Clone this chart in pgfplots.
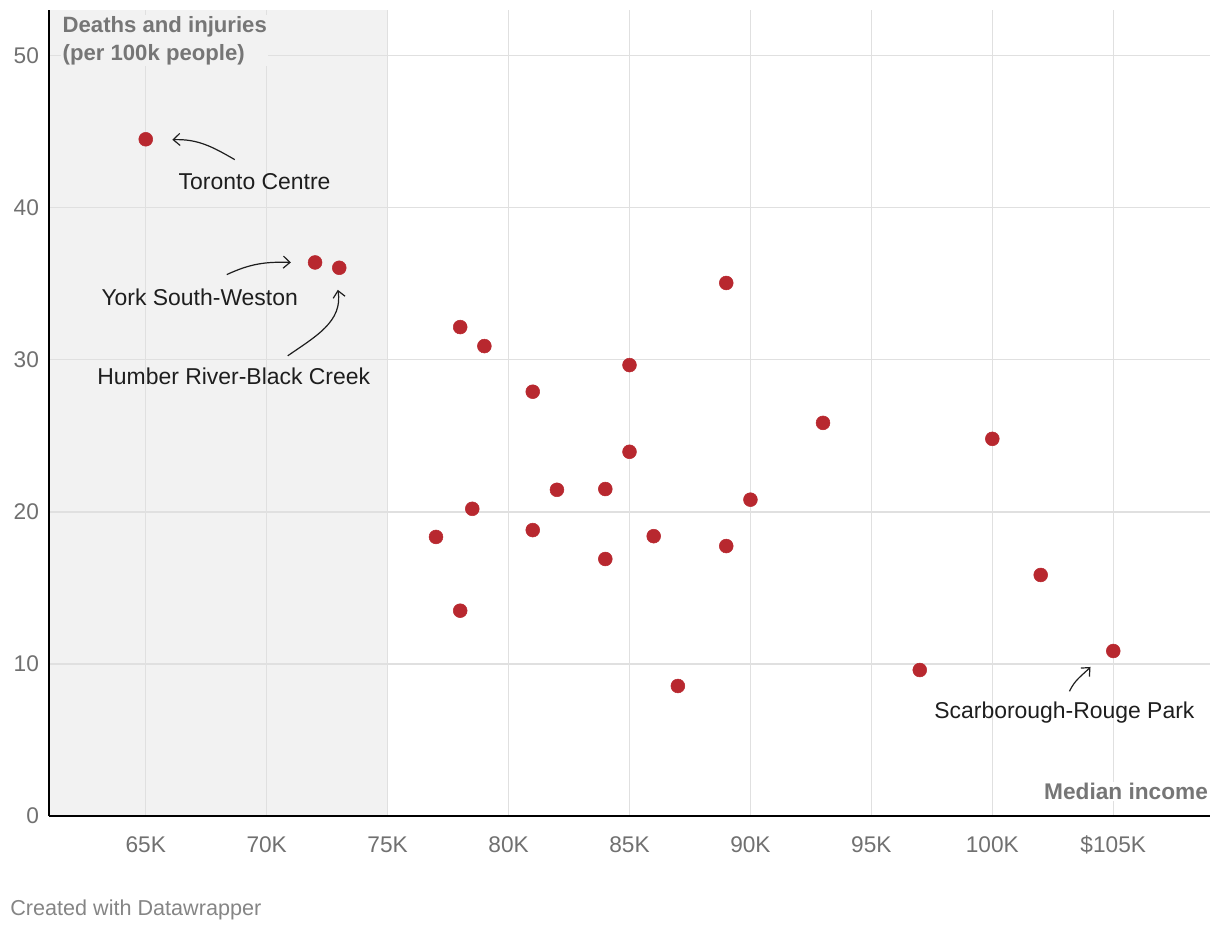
\documentclass[border=0pt]{standalone}
\usepackage{fontspec}
\setmainfont{Liberation Sans}
\usepackage{pgfplots}
\pgfplotsset{compat=1.18}
\usetikzlibrary{arrows.meta}
\definecolor{dotred}{HTML}{B8282F}
\definecolor{gridgray}{HTML}{E0E0E0}
\definecolor{shade}{HTML}{F2F2F2}
\definecolor{ticktext}{HTML}{707070}
\definecolor{titlegray}{HTML}{767676}
\definecolor{annot}{HTML}{1E1E1E}
\begin{document}
\begin{tikzpicture}
\begin{axis}[
  set layers,
  at={(0,0)}, anchor=south west,
  scale only axis,
  width=870.75pt, height=604.5pt,
  xmin=61, xmax=109, ymin=0, ymax=53,
  xtick={65,70,75,80,85,90,95,100,105},
  xticklabels={65K,70K,75K,80K,85K,90K,95K,100K,\$105K},
  ytick={0,10,20,30,40,50},
  grid=major,
  major grid style={gridgray, line width=1pt},
  major tick length=0pt,
  axis x line*=bottom, axis y line*=left,
  axis line style={black, line width=1.4pt, -},
  tick label style={font=\fontsize{17}{20}\selectfont, text=ticktext},
  xticklabel style={yshift=-16pt, text height=0.75em, text depth=0.22em},
  yticklabel style={xshift=-4pt},
  /pgf/number format/assume math mode=true,
  clip=false,
]
\addplot[fill=shade, draw=none, on layer=axis background] coordinates {(61,0) (75,0) (75,53) (61,53)} -- cycle;
\addplot[only marks, mark=*, mark size=5.2pt, color=dotred] coordinates {
(65,44.5) (72,36.4) (73,36.05) (78,32.15) (79,30.9) (81,27.9) (85,29.65)
(89,35.05) (93,25.85) (100,24.8) (85,23.95) (82,21.45) (84,21.5) (90,20.8)
(78.5,20.2) (77,18.35) (81,18.8) (86,18.4) (84,16.9) (89,17.75) (102,15.85)
(78,13.5) (105,10.85) (97,9.6) (87,8.55)
};
% annotations
\draw[annot, -{Straight Barb[length=5pt,width=9pt]}, line width=0.9pt] (axis cs:68.68,43.16) to[out=150,in=2] (axis cs:66.1,44.47);
\node[annot, font=\fontsize{17.2}{20}\selectfont] at (axis cs:69.5,41.7) {Toronto Centre};
\draw[annot, -{Straight Barb[length=5pt,width=9pt]}, line width=0.9pt] (axis cs:68.35,35.6) to[out=25,in=178] (axis cs:71.0,36.4);
\node[annot, font=\fontsize{17.2}{20}\selectfont] at (axis cs:67.23,34.1) {York South-Weston};
\draw[annot, -{Straight Barb[length=5pt,width=9pt]}, line width=0.9pt] (axis cs:70.87,30.26) to[out=35,in=-80] (axis cs:72.94,34.6);
\node[annot, font=\fontsize{17.2}{20}\selectfont] at (axis cs:68.64,28.9) {Humber River-Black Creek};
\draw[annot, -{Straight Barb[length=5pt,width=9pt]}, line width=0.9pt] (axis cs:103.19,8.2) to[out=65,in=-135] (axis cs:104.06,9.8);
\node[annot, font=\fontsize{17.2}{20}\selectfont] at (axis cs:102.98,6.78) {Scarborough-Rouge Park};
\node[anchor=north west, align=left, font=\bfseries\fontsize{16.6}{21}\selectfont, text=titlegray, fill=shade, inner sep=1pt] at (axis cs:61.5,52.7) {Deaths and injuries\\(per 100k people)};
\node[anchor=east, font=\bfseries\fontsize{17}{20}\selectfont, text=titlegray, fill=white, inner sep=1pt] at (axis cs:108.98,1.6) {Median income};
\end{axis}
\node[anchor=west, font=\fontsize{16.2}{19}\selectfont, text=ticktext!85] at (-32.5pt,-70.5pt) {Created with Datawrapper};
\pgfresetboundingbox
\path[use as bounding box] (-36.75pt,-87pt) rectangle (878.25pt,612pt);
\end{tikzpicture}
\end{document}
